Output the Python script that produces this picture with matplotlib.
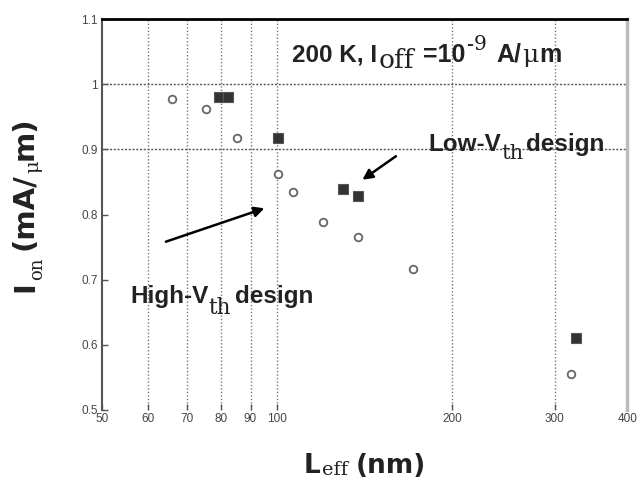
import matplotlib
matplotlib.use("Agg")
import matplotlib.pyplot as plt
from matplotlib.ticker import NullLocator
from matplotlib.transforms import IdentityTransform

# high-Vth design (open circles)
high_L = [66, 75.5, 85.3, 100.4, 106.5, 120, 137.8, 171.4, 320.5]
high_I = [0.977, 0.962, 0.918, 0.863, 0.834, 0.788, 0.766, 0.717, 0.555]

# low-Vth design (filled squares)
low_L = [79.5, 82.3, 100.5, 129.9, 137.8, 327]
low_I = [0.981, 0.981, 0.917, 0.840, 0.828, 0.611]

x_ticks = [50, 60, 70, 80, 90, 100, 200, 300, 400]
y_ticks = [0.5, 0.6, 0.7, 0.8, 0.9, 1.0, 1.1]
y_labels = ["0.5", "0.6", "0.7", "0.8", "0.9", "1", "1.1"]

SANS = ["Liberation Sans", "DejaVu Sans"]
WIDE = ["DejaVu Sans"]
SERIF = ["DejaVu Serif"]
INK = "#222222"

plt.rcParams["font.family"] = SANS

fig = plt.figure(figsize=(6.42, 4.91), dpi=100)
ax = fig.add_axes([0.159, 0.165, 0.818, 0.796])

ax.set_xscale("log")
ax.set_xlim(50, 400)
ax.set_ylim(0.5, 1.1)

for xv in x_ticks[1:-1]:
    ax.axvline(xv, color="#777777", lw=1.0, ls=(0, (1, 1.5)), zorder=1)
for yv in [0.9, 1.0]:
    ax.axhline(yv, color="#555555", lw=1.0, ls=(0, (1.5, 1.2)), zorder=1)

ax.plot(high_L, high_I, "o", ms=5.5, mfc="white", mec="#666666", mew=1.3, zorder=3)
ax.plot(low_L, low_I, "s", ms=7.5, mfc="#333333", mec="#555555", mew=0.8, zorder=3)

ax.set_xticks(x_ticks)
ax.set_xticklabels([str(v) for v in x_ticks])
ax.xaxis.set_minor_locator(NullLocator())
ax.set_yticks(y_ticks)
ax.set_yticklabels(y_labels)
ax.tick_params(axis="both", direction="in", length=4, width=1, colors="#555555",
               labelsize=8.5, labelcolor="#444444")
ax.tick_params(axis="x", pad=2)
ax.tick_params(axis="y", pad=3)

ax.spines["top"].set_color("black")
ax.spines["top"].set_linewidth(2)
ax.spines["right"].set_color("#bbbbbb")
ax.spines["right"].set_linewidth(2.5)
ax.spines["left"].set_color("#555555")
ax.spines["left"].set_linewidth(1.5)
ax.spines["bottom"].set_visible(False)

ax.annotate("", xy=(138.9, 0.851), xytext=(161.5, 0.892),
            arrowprops=dict(arrowstyle="-|>", color="black", lw=1.8, mutation_scale=15))
ax.annotate("", xy=(96.1, 0.811), xytext=(63.7, 0.757),
            arrowprops=dict(arrowstyle="-|>", color="black", lw=1.8, mutation_scale=15))


def rich_text(x0, y0, pieces, vertical=False):
    """Lay out mixed sans/serif pieces along one baseline, in pixels.

    Each piece is (text, size, family, weight, baseline shift, gap before).
    """
    renderer = fig.canvas.get_renderer()
    pos = x0 if not vertical else y0
    for s, size, fam, weight, dy, gap in pieces:
        pos += gap
        if vertical:
            xy = (x0 - dy, pos)
        else:
            xy = (pos, y0 + dy)
        t = fig.text(xy[0], xy[1], s, transform=IdentityTransform(),
                     fontsize=size, family=fam, fontweight=weight, color=INK,
                     rotation=90 if vertical else 0, rotation_mode="anchor",
                     ha="left", va="baseline")
        bb = t.get_window_extent(renderer)
        pos += bb.height if vertical else bb.width


rich_text(292, 429.3, [
    ("200 K, I", 17.5, SANS, "bold", 0, 0),
    ("off", 19, SERIF, "normal", -6.5, 1),
    ("=10", 18, SANS, "bold", 0, 9),
    ("-", 15, SANS, "bold", 12, 1),
    ("9", 14.5, SERIF, "normal", 12, 0.5),
    ("A/", 18, SANS, "bold", 0, 10),
    ("\u03bc", 18, SERIF, "normal", 0, 1),
    ("m", 18, SANS, "bold", 0, 1),
])

rich_text(428, 340, [
    ("Low-V", 17.5, SANS, "bold", 0, 0),
    ("th", 15, SERIF, "normal", -8, 0.5),
    ("design", 17.5, SANS, "bold", 0, 3),
])

rich_text(130, 187.7, [
    ("High-V", 17.5, SANS, "bold", 0, 0),
    ("th", 15.5, SERIF, "normal", -11, 0.5),
    ("design", 17.5, SANS, "bold", 0, 4),
])

rich_text(304, 18.3, [
    ("L", 19, WIDE, "bold", 0, 0),
    ("eff", 14, SERIF, "normal", -2.5, 1.5),
    ("(nm)", 19, WIDE, "bold", 0, 8),
])

rich_text(33, 199, [
    ("I", 21, WIDE, "bold", 0, 0),
    ("on", 13, SERIF, "normal", -9, 1.5),
    ("(mA/", 21, WIDE, "bold", 0, 7),
    ("\u03bc", 14, SERIF, "normal", -5, 0.5),
    ("m)", 21, WIDE, "bold", 0, 0.5),
], vertical=True)

fig.savefig("out.png", dpi=100)
